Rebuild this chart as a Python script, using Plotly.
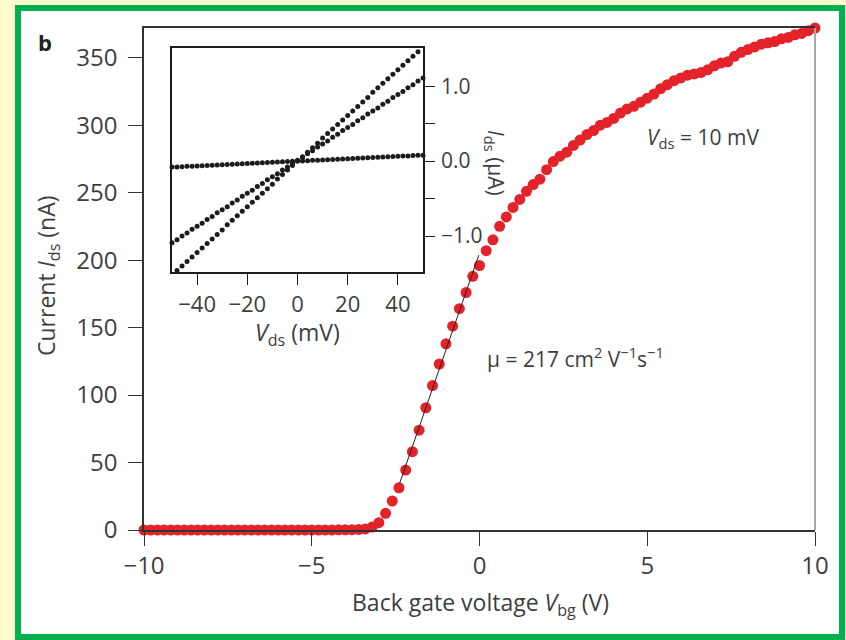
import plotly.graph_objects as go

# ---- Main transfer curve: drain current vs back-gate voltage (Vds = 10 mV) ----
vbg_v = [round(-10 + 0.2 * k, 1) for k in range(101)]  # gate sweep, 0.2 V steps
ids_na = [
    0, 0, 0, 0, 0, 0, 0, 0, 0, 0,
    0, 0, 0, 0, 0, 0, 0, 0, 0, 0,
    0, 0, 0, 0, 0, 0, 0, 0, 0, 0.1,
    0.1, 0.2, 0.3,
    0.8, 2.2, 5.4, 12.4, 21.5, 31.3, 44.4, 58.0, 74.0, 90.6,
    107, 123, 138, 151, 164, 176, 188, 196, 207, 215,
    225, 232, 239, 245, 251, 256, 260, 267, 273, 277,
    280, 285, 289, 293, 296, 300, 302, 305, 309, 312,
    314, 317, 320, 323, 327, 330, 333, 335, 337, 338,
    339, 341, 344, 346, 347, 351, 354, 356, 358, 360,
    361, 362, 364, 365, 367, 368, 370, 372,
]

# Linear fit in the steep region used for the mobility estimate
fit_v = [-2.38, -0.02]
fit_i = [34.6, 203.7]

x_ticks = [-10, -5, 0, 5, 10]
y_ticks = [0, 50, 100, 150, 200, 250, 300, 350]

# ---- Inset: output characteristics Ids vs Vds at three gate voltages ----
vds_mv = list(range(-50, 51, 2))
ids_ua_low = [
    -0.080, -0.077, -0.074, -0.070, -0.067, -0.064, -0.061, -0.058, -0.054, -0.051,
    -0.048, -0.045, -0.042, -0.038, -0.035, -0.032, -0.029, -0.026, -0.022, -0.019,
    -0.016, -0.013, -0.010, -0.006, -0.003, 0.000, 0.003, 0.006, 0.010, 0.013,
    0.016, 0.019, 0.022, 0.026, 0.029, 0.032, 0.035, 0.038, 0.042, 0.045,
    0.048, 0.051, 0.054, 0.058, 0.061, 0.064, 0.067, 0.070, 0.074, 0.077, 0.080,
]
ids_ua_mid = [
    -1.09, -1.05, -1.00, -0.96, -0.91, -0.87, -0.83, -0.78, -0.74, -0.69,
    -0.65, -0.61, -0.56, -0.52, -0.47, -0.43, -0.39, -0.34, -0.30, -0.25,
    -0.21, -0.17, -0.12, -0.08, -0.03, 0.01, 0.05, 0.10, 0.14, 0.19,
    0.23, 0.27, 0.32, 0.36, 0.41, 0.45, 0.49, 0.54, 0.58, 0.63,
    0.67, 0.71, 0.76, 0.80, 0.85, 0.89, 0.93, 0.98, 1.02, 1.07, 1.11,
]
ids_ua_high = [
    -1.53, -1.46, -1.40, -1.34, -1.28, -1.22, -1.16, -1.10, -1.04, -0.98,
    -0.92, -0.85, -0.79, -0.73, -0.67, -0.61, -0.55, -0.49, -0.43, -0.37,
    -0.31, -0.24, -0.18, -0.12, -0.06, 0.00, 0.06, 0.12, 0.18, 0.24,
    0.31, 0.37, 0.43, 0.49, 0.55, 0.61, 0.67, 0.73, 0.79, 0.85,
    0.92, 0.98, 1.04, 1.10, 1.16, 1.22, 1.28, 1.34, 1.40, 1.46, 1.53,
]
inset_x_ticks = [-40, -20, 0, 20, 40]
inset_y_ticks = [-1.0, 0.0, 1.0]
inset_y_text = ["\u22121.0", "0.0", "1.0"]
inset_y_minor = [-0.5, 0.5]

FONT = "Open Sans"
TXT = "#3e3e3e"
RED = "#e4222a"
INK = "#1c1c1c"

fig = go.Figure()

fig.add_trace(go.Scatter(
    x=vbg_v, y=ids_na, mode="markers",
    marker=dict(color=RED, size=11, line=dict(width=0)),
    cliponaxis=False, xaxis="x", yaxis="y", showlegend=False,
))
fig.add_trace(go.Scatter(
    x=fit_v, y=fit_i, mode="lines",
    line=dict(color="#222222", width=1),
    xaxis="x", yaxis="y", showlegend=False,
))

for series, clip in ((ids_ua_low, False), (ids_ua_mid, False), (ids_ua_high, True)):
    fig.add_trace(go.Scatter(
        x=vds_mv, y=series, mode="markers",
        marker=dict(color=INK, size=5, line=dict(width=0)),
        cliponaxis=clip, xaxis="x2", yaxis="y2", showlegend=False,
    ))

# Figure geometry (px) -> plot area is 671 x 502
W, H = 846, 640
ML, MR, MT, MB = 144, 31, 28, 110
PW, PH = W - ML - MR, H - MT - MB


def px(xp):
    return (xp - ML) / PW


def py(yp):
    return (H - MB - yp) / PH


axis_common = dict(
    showgrid=False, zeroline=False, ticks="outside",
    tickfont=dict(family=FONT, size=24, color=TXT),
)

fig.update_layout(
    width=W, height=H,
    margin=dict(l=ML, r=MR, t=MT, b=MB, pad=0),
    paper_bgcolor="#fefccf",
    plot_bgcolor="rgba(0,0,0,0)",
    font=dict(family=FONT, color=TXT),
    xaxis=dict(
        **axis_common, range=[-10, 10], tickvals=x_ticks,
        ticklen=14, tickwidth=1.3, tickcolor="#333333",
        showline=True, linecolor="#333333", linewidth=1.5, mirror=True,
        ticklabelstandoff=-1, anchor="y",
    ),
    yaxis=dict(
        **axis_common, range=[0, 372], tickvals=y_ticks,
        ticklen=14, tickwidth=1.3, tickcolor="#333333",
        showline=True, linecolor="#333333", linewidth=1.5,
        ticklabelstandoff=6, anchor="x",
    ),
    xaxis2=dict(
        showgrid=False, zeroline=False, ticks="outside",
        tickfont=dict(family=FONT, size=22, color=TXT),
        domain=[px(172), px(423)], range=[-50, 50], tickvals=inset_x_ticks,
        ticklen=11, tickwidth=1.3, tickcolor=INK,
        showline=True, linecolor=INK, linewidth=1.5, mirror=True,
        ticklabelstandoff=1, anchor="y2",
    ),
    yaxis2=dict(
        showgrid=False, zeroline=False, ticks="outside", side="right",
        tickfont=dict(family=FONT, size=21, color=TXT),
        domain=[py(272), py(48)], range=[-1.48, 1.51],
        tickvals=inset_y_ticks, ticktext=inset_y_text,
        ticklen=10, tickwidth=1.3, tickcolor=INK,
        minor=dict(tickvals=inset_y_minor, ticks="outside", ticklen=10,
                   tickwidth=1.3, tickcolor=INK, showgrid=False),
        showline=True, linecolor=INK, linewidth=1.5, mirror=True,
        ticklabelstandoff=2, anchor="x2",
    ),
)

# Green frame around a white panel
fig.add_shape(
    type="rect", xref="paper", yref="paper",
    x0=px(18), x1=px(842), y0=py(637), y1=py(8),
    line=dict(color="#00b04f", width=6), fillcolor="white", layer="below",
)
# Light grey right-hand border of the main axes
fig.add_shape(
    type="line", xref="x domain", yref="y domain",
    x0=1, x1=1, y0=0, y1=1,
    line=dict(color="#a8a8a8", width=2),
)

annotations = [
    dict(text="<b>b</b>", x=px(45), y=py(42), size=22, color="#222222"),
    dict(text="Back gate voltage <i>V</i><sub>bg</sub> (V)", x=px(480), y=py(603), size=23),
    dict(text="Current <i>I</i><sub>ds</sub> (nA)", x=px(47), y=py(276), size=23, angle=-90),
    dict(text="<i>V</i><sub>ds</sub> (mV)", x=px(297), y=py(333), size=23),
    dict(text="<i>I</i><sub>ds</sub> (\u03bcA)", x=px(495), y=py(163), size=21, angle=90),
    dict(text="<i>V</i><sub>ds</sub> = 10 mV", x=px(703), y=py(138), size=21),
    dict(text="\u03bc = 217 cm<sup>2</sup> V<sup>\u22121</sup>s<sup>\u22121</sup>",
         x=px(575), y=py(357), size=21),
]
for a in annotations:
    fig.add_annotation(
        text=a["text"], x=a["x"], y=a["y"], xref="paper", yref="paper",
        xanchor="center", yanchor="middle", showarrow=False,
        textangle=a.get("angle", 0),
        font=dict(family=FONT, size=a["size"], color=a.get("color", TXT)),
    )

fig.write_html("out.html")
